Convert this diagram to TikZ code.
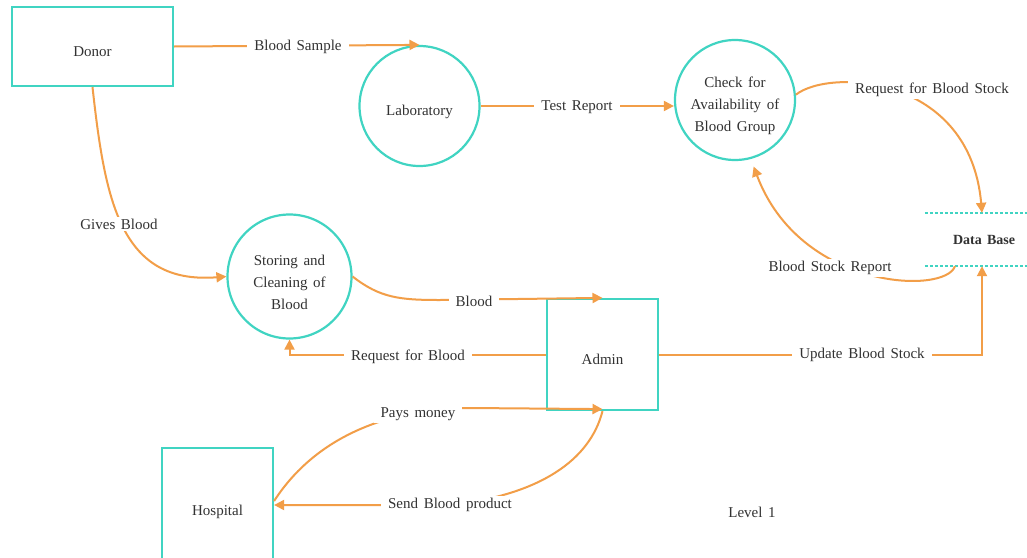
\documentclass[tikz,border=0pt]{standalone}
\usepackage{fontspec}
\setmainfont{Liberation Serif}[WordSpace=1.5]
\usetikzlibrary{arrows.meta}

\definecolor{turq}{RGB}{64,212,194}
\definecolor{flow}{RGB}{242,158,72}
\definecolor{ink}{RGB}{50,50,50}

% a tall invisible strut on the first line pushes circle text a little lower
\newcommand\dropline{\rule{0pt}{22pt}}

\begin{document}
\begin{tikzpicture}[x=1pt,y=-1pt,
  font=\fontsize{15}{22}\selectfont,
  entity/.style={draw=turq, line width=2.2pt, text=ink, inner sep=0pt,
                 text height=20pt, text depth=0pt},
  proc/.style={circle, draw=turq, line width=2.2pt, text=ink, inner sep=0pt, align=center},
  flowline/.style={draw=flow, line width=2pt, -{Triangle[length=10pt,width=10pt]}},
  lbl/.style={fill=white, text=ink, inner xsep=7pt, inner ysep=2pt},
  dbline/.style={draw=turq, line width=1.6pt, dash pattern=on 3pt off 2pt}]

\useasboundingbox (0,0) rectangle (1027,557);
\fill[white] (0,0) rectangle (1027,557);

% external entities and processes
\node[entity, minimum width=161pt, minimum height=79pt] (donor) at (92.5,46.5) {Donor};
\node[proc, minimum size=120pt] (lab) at (419.5,106) {\dropline Laboratory};
\node[proc, minimum size=120pt] (check) at (735,100) {\dropline Check for\\Availability of\\Blood Group};
\node[proc, minimum size=124pt] (store) at (289.5,276.5) {\dropline Storing and\\Cleaning of\\Blood};
\node[entity, minimum width=111pt, minimum height=111pt] (admin) at (602.5,354.5) {Admin};
\node[entity, minimum width=111pt, minimum height=114pt] (hosp) at (217.5,505) {Hospital};

% data store
\node[minimum width=102pt, minimum height=53pt, inner sep=0pt, text=ink,
      font=\fontsize{14}{16}\selectfont\bfseries] (db) at (976,239.5) {\hspace*{16pt}Data Base};
\draw[dbline] (db.north west) -- (db.north east);
\draw[dbline] (db.south west) -- (db.south east);

\node[text=ink] (level) at (752,512) {Level 1};

% data flows
\draw[flowline] (donor.east) -- (lab.north)
  node[lbl] at (298,47) {Blood Sample};

\draw[flowline] (lab.east) -- (lab.east -| check.west)
  node[lbl] at (577,107) {Test Report};

\draw[flowline] (check.5) .. controls (830,68) and (970,75) .. ([xshift=6pt]db.north)
  node[lbl] at (932,90) {Request for Blood Stock};

\draw[flowline, shorten >=8pt] ([xshift=-21pt]db.south) .. controls (945,295) and (800,290) .. (check.-75)
  node[lbl] at (830,268) {Blood Stock Report};

\draw[flowline] (donor.south) .. controls (105,200) and (120,285) .. (store.west)
  node[lbl] at (119,224) {Gives Blood};

\draw[flowline] (store.east) .. controls (380,298) and (400,300) .. (440,300) -- (admin.north)
  node[lbl] at (474,301) {Blood};

\draw[flowline] (admin.west) -| (store.south)
  node[lbl] at (408,357) {Request for Blood};

\draw[flowline] (admin.east) -| ([xshift=6pt]db.south)
  node[lbl] at (862,355) {Update Blood Stock};

\draw[flowline] ([yshift=4pt]hosp.east) .. controls (320,430) and (400,408) .. (470,408) -- ([yshift=2pt]admin.south)
  node[lbl] at (418,414) {Pays money};

\draw[flowline] (admin.south) .. controls (590,460) and (540,495) .. (450,505) -- (hosp.east)
  node[lbl] at (450,505) {Send Blood product};

\end{tikzpicture}
\end{document}
